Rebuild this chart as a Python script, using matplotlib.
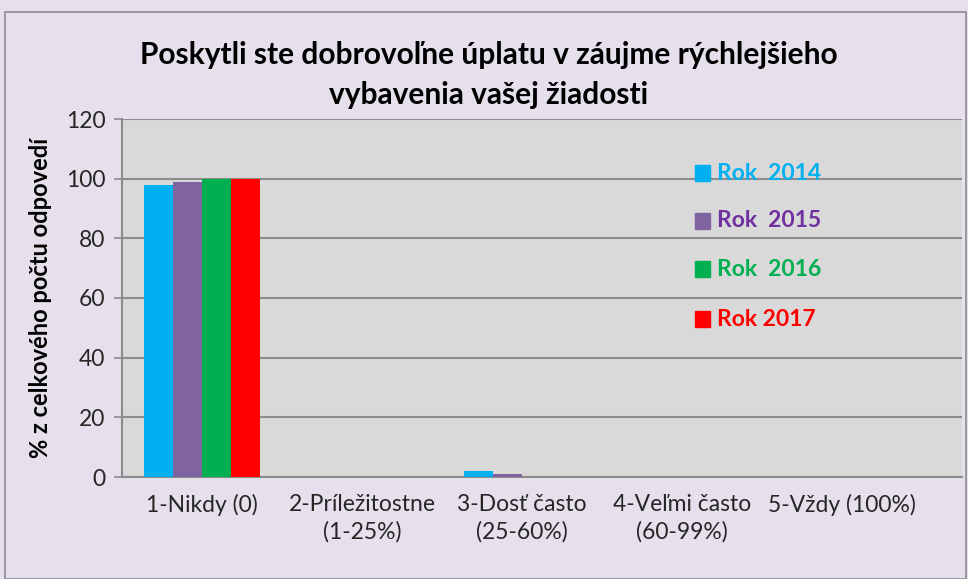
import numpy as np
import matplotlib.pyplot as plt
from matplotlib.patches import Rectangle

# data
categories = ['1-Nikdy (0)', '2-Príležitostne\n(1-25%)', '3-Dosť často\n(25-60%)',
              '4-Veľmi často\n(60-99%)', '5-Vždy (100%)']
years = ['Rok  2014', 'Rok  2015', 'Rok  2016', 'Rok 2017']
v2014 = [98, 0, 2, 0, 0]
v2015 = [99, 0, 1, 0, 0]
v2016 = [100, 0, 0, 0, 0]
v2017 = [100, 0, 0, 0, 0]
bar_colors = ['#00B0F0', '#8064A2', '#00B050', '#FF0000']
text_colors = ['#00B0F0', '#7030A0', '#00B050', '#FF0000']

plt.rcParams['font.family'] = ['Lato', 'DejaVu Sans']

fig = plt.figure(figsize=(9.68, 5.79), dpi=100)
fig.patch.set_facecolor('#E6E0EC')
fig.patches.append(Rectangle((5/968, 0), 961/968, 567/579, transform=fig.transFigure,
                             fill=False, edgecolor='#8C8C8C', linewidth=1.2))

ax = fig.add_axes([122/968, 102/579, 840/968, 358/579])
ax.set_facecolor('#D9D9D9')

x = np.arange(len(categories))
w = 0.18
for i, vals in enumerate([v2014, v2015, v2016, v2017]):
    ax.bar(x + (i - 1.5) * w, vals, width=w, color=bar_colors[i], zorder=3)

ax.set_ylim(0, 120)
ax.set_yticks(range(0, 121, 20))
ax.set_xlim(-0.5, 4.75)
ax.set_xticks(x)
ax.set_xticklabels(categories, fontsize=16.5, color='#262626', linespacing=1.35)
ax.tick_params(axis='x', length=0, pad=12)
ax.tick_params(axis='y', labelsize=16.5, labelcolor='#262626', length=6, width=1.2,
               color='#8C8C8C', pad=6)
ax.grid(axis='y', color='#8C8C8C', linewidth=1.5, zorder=1)
for s in ['top', 'right']:
    ax.spines[s].set_visible(False)
for s in ['left', 'bottom']:
    ax.spines[s].set_color('#8C8C8C')
    ax.spines[s].set_linewidth(1.5)

ax.set_ylabel('% z celkového počtu odpovedí', fontsize=17, fontweight='bold', labelpad=10)

fig.text(0.505, 1 - 55/579, 'Poskytli ste dobrovoľne úplatu v záujme rýchlejšieho',
         ha='center', va='center', fontsize=21.5, fontweight='bold')
fig.text(0.505, 1 - 95/579, 'vybavenia vašej žiadosti',
         ha='center', va='center', fontsize=21.5, fontweight='bold')

# legend
for i, lab in enumerate(years):
    ly = [173, 221, 269, 319][i]
    fig.patches.append(Rectangle((695/968, 1 - (ly + 8)/579), 15/968, 16/579,
                                 transform=fig.transFigure, color=bar_colors[i]))
    fig.text(717/968, 1 - ly/579, lab, color=text_colors[i], fontsize=16.5,
             fontweight='bold', va='center')

fig.savefig('out.png', dpi=100, facecolor=fig.get_facecolor())
